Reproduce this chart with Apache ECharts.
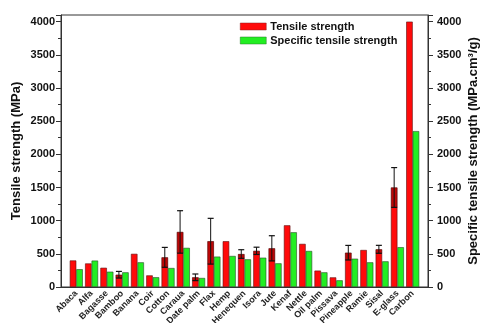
<!DOCTYPE html>
<html><head><meta charset="utf-8">
<script src="https://cdn.jsdelivr.net/npm/echarts@6/dist/echarts.min.js"></script>
<style>html,body{margin:0;padding:0;background:#fff}#c{width:481px;height:323px}</style>
</head><body><div id="c"></div>
<script>
const categories = ['Abaca','Alfa','Bagasse','Bamboo','Banana','Coir','Cotton','Caraua','Date palm','Flax','Hemp','Henequen','Isora','Jute','Kenaf','Nettle','Oil palm','Pissava','Pineapple','Ramie','Sisal','E-glass','Carbon'];
const tensile = [400,355,290,185,500,175,447,830,146,690,690,497,545,583,930,650,247,145,517,558,568,1500,4000];
const specific = [268,398,231,221,372,147,286,590,136,458,468,417,442,357,825,543,221,101,427,372,387,600,2350];
const tensileErr = [0,0,0,50,0,0,150,320,50,345,0,65,55,190,0,0,0,0,110,0,60,300,0];
const yTicks = [0,500,1000,1500,2000,2500,3000,3500,4000];

const BW = 6.5;
const font = 'Liberation Sans, Arial, sans-serif';
const axisCol = '#333';
const chart = echarts.init(document.getElementById('c'), null, {renderer:'canvas'});
const axisData = [''].concat(categories).concat(['']);
const yAxisBase = {
  type:'value', min:0, max:4100, interval:500,
  axisLine:{show:true, lineStyle:{color:axisCol, width:1}},
  axisTick:{show:true, length:5, lineStyle:{color:axisCol}},
  minorTick:{show:true, splitNumber:2, length:3, lineStyle:{color:axisCol}},
  splitLine:{show:false},
  nameLocation:'middle', nameRotate:90, nameMoveOverlap:false,
  nameTextStyle:{fontFamily:font, fontWeight:'bold', fontSize:13, color:'#111'}
};
chart.setOption({
  animation:false,
  grid:{left:61, right:53, top:15, bottom:36, show:true, borderColor:axisCol, borderWidth:1, containLabel:false, outerBoundsMode:'none'},
  legend:{
    orient:'vertical', left:235, top:16, itemWidth:26, itemHeight:7, itemGap:3,
    textStyle:{fontFamily:font, fontWeight:'bold', fontSize:11, color:'#111', padding:[0,0,0,-1]},
    data:[{name:'Tensile strength', icon:'rect', itemStyle:{borderColor:'#8a2020', borderWidth:0.5}},
          {name:'Specific tensile strength', icon:'rect', itemStyle:{borderColor:'#2a7a2a', borderWidth:0.5}}]
  },
  xAxis:{
    type:'category', data:axisData, boundaryGap:false,
    axisLine:{lineStyle:{color:axisCol}},
    axisTick:{show:false},
    axisLabel:{interval:0, rotate:45, fontFamily:font, fontWeight:'bold', fontSize:9, color:'#222', margin:5}
  },
  yAxis:[
    Object.assign({}, yAxisBase, {position:'left', name:'Tensile strength (MPa)', nameGap:38,
      axisLabel:{fontFamily:font, fontWeight:'bold', fontSize:11, color:'#111', margin:6,
        formatter:v=>yTicks.indexOf(v)>=0?String(v):''}}),
    Object.assign({}, yAxisBase, {position:'right', name:'Specific tensile strength (MPa.cm³/g)', nameGap:39,
      axisLabel:{fontFamily:font, fontWeight:'bold', fontSize:11, color:'#111', margin:9,
        formatter:v=>yTicks.indexOf(v)>=0?String(v):''}})
  ],
  series:[
    {name:'Tensile strength', type:'bar', barWidth:BW, barGap:'0%',
     itemStyle:{color:'#ff0a0a', borderColor:'#5a1010', borderWidth:0.6},
     data:tensile.map((v,i)=>[i+1,v])},
    {name:'Specific tensile strength', type:'bar', barWidth:BW, barGap:'0%',
     itemStyle:{color:'#22ee22', borderColor:'#2a4a2a', borderWidth:0.6},
     data:specific.map((v,i)=>[i+1,v])},
    {name:'err', type:'custom', z:10,
     data:tensileErr.map((e,i)=>[i+1,tensile[i],e]).filter(d=>d[2]>0),
     renderItem:function(params, api){
       const x = api.value(0), v = api.value(1), e = api.value(2);
       const c = api.coord([x, v]);
       const hi = api.coord([x, v+e]);
       const lo = api.coord([x, v-e]);
       const xc = c[0] - BW/2;
       const cap = 3;
       return {type:'group', children:[
         {type:'rect', shape:{x:xc-BW/2, y:c[1], width:BW, height:lo[1]-c[1]}, style:{fill:'rgba(70,0,0,0.35)'}},
         {type:'line', shape:{x1:xc, y1:hi[1], x2:xc, y2:lo[1]}, style:{stroke:'#111', lineWidth:1}},
         {type:'line', shape:{x1:xc-cap, y1:hi[1], x2:xc+cap, y2:hi[1]}, style:{stroke:'#111', lineWidth:1.2}},
         {type:'line', shape:{x1:xc-cap, y1:lo[1], x2:xc+cap, y2:lo[1]}, style:{stroke:'#111', lineWidth:1.2}}
       ]};
     }}
  ]
});
</script></body></html>
